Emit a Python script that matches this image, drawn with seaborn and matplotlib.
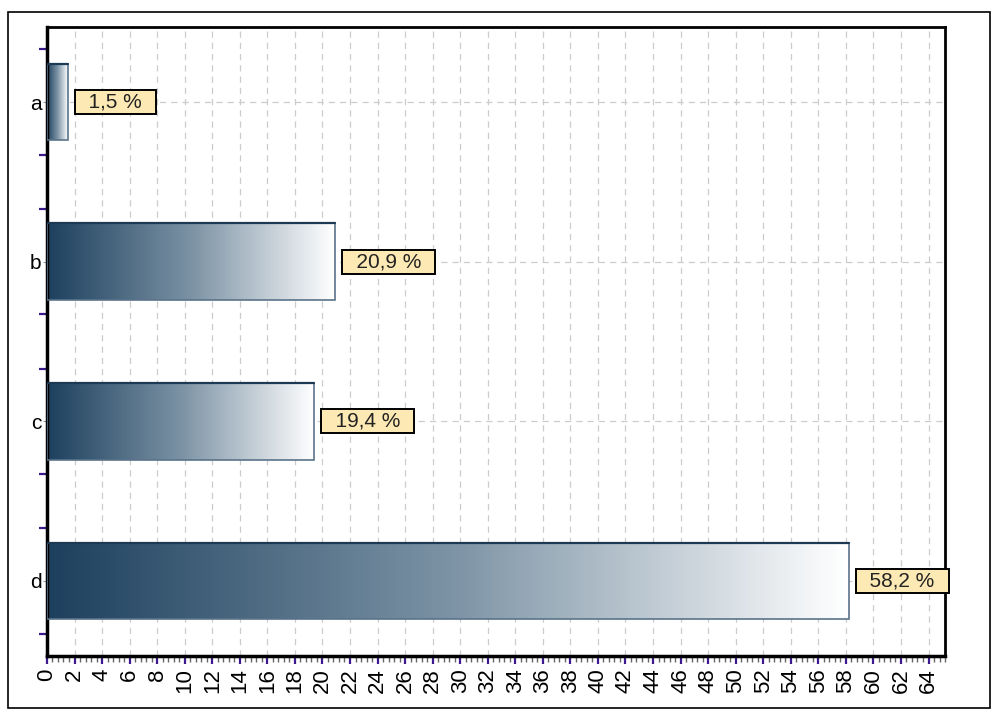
import numpy as np
import pandas as pd
import seaborn as sns
import matplotlib.pyplot as plt
from matplotlib.colors import LinearSegmentedColormap
from matplotlib.patches import Rectangle
from matplotlib.ticker import MultipleLocator, FixedLocator

categories = ["a", "b", "c", "d"]
values = [1.5, 20.9, 19.4, 58.2]
value_labels = ["1,5 %", "20,9 %", "19,4 %", "58,2 %"]

sns.set_style("white")
plt.rcParams['font.family'] = ['Liberation Sans', 'DejaVu Sans']

df = pd.DataFrame({"cat": categories, "val": values})

fig = plt.figure(figsize=(9.93, 7.11), dpi=100)
ax = fig.add_axes([0.0473, 0.0774, 0.9044, 0.8846])

sns.barplot(data=df, x="val", y="cat", orient="h", width=0.48, ax=ax,
            color="white", edgecolor="#5a7389", linewidth=1.2)

cmap = LinearSegmentedColormap.from_list("bargrad", ["#1d405e", "#7b92a4", "#ffffff"])
grad = np.linspace(0, 1, 256).reshape(1, -1)
for p in ax.patches:
    x0, y0 = p.get_x(), p.get_y()
    w, h = p.get_width(), p.get_height()
    ax.imshow(grad, cmap=cmap, aspect="auto", extent=(x0, x0 + w, y0 + h, y0),
              zorder=2, interpolation="bicubic")
    p.set_facecolor("none")
    p.set_zorder(3)
    ax.plot([x0, x0 + w], [y0, y0], color="#1d3a55", lw=1.6, zorder=4)

for i, (v, lab) in enumerate(zip(values, value_labels)):
    ax.annotate("  " + lab + "  ", xy=(v, i), xytext=(7, 0), textcoords="offset points",
                ha="left", va="center", fontsize=15, color="#222222", zorder=6,
                bbox=dict(boxstyle="square,pad=0.12", fc="#fde9b4", ec="black", lw=1.4))

ax.set_xlim(0, 65.2)
ax.set_ylim(3.47, -0.47)
ax.set_xticks(np.arange(0, 65, 2))
ax.set_xticklabels([str(t) for t in range(0, 65, 2)], rotation=90, fontsize=16)
ax.xaxis.set_minor_locator(MultipleLocator(0.4))
ax.yaxis.set_minor_locator(FixedLocator([c + d for c in range(4) for d in (-0.33, 0.33)]))
ax.tick_params(bottom=True, left=True, which="both")
ax.tick_params(axis="x", which="major", direction="out", length=6, width=1.6,
               color="#3d1a8c", pad=3, labelcolor="black")
ax.tick_params(axis="x", which="minor", direction="out", length=4, width=1, color="#666666")
ax.tick_params(axis="y", which="major", direction="out", length=3, width=0.8,
               color="#8899aa", labelsize=15, pad=1, labelcolor="black")
ax.tick_params(axis="y", which="minor", direction="out", length=6, width=1.6, color="#3d1a8c")
ax.set_xlabel("")
ax.set_ylabel("")

ax.grid(True, axis="x", which="major", ls=(0, (5, 4)), color="#cccccc", lw=0.9, zorder=0)
ax.grid(True, axis="y", which="major", ls=(0, (5, 4)), color="#cccccc", lw=0.9, zorder=0)
ax.set_axisbelow(True)

for s in ax.spines.values():
    s.set_color("black")
    s.set_linewidth(2)
ax.spines["left"].set_linewidth(2.5)
ax.spines["bottom"].set_linewidth(2.5)

fig.patches.append(Rectangle((8 / 993, 3 / 711), 982 / 993, 696 / 711, transform=fig.transFigure,
                             fill=False, ec="black", lw=1.2))

fig.savefig("out.png", dpi=100)
